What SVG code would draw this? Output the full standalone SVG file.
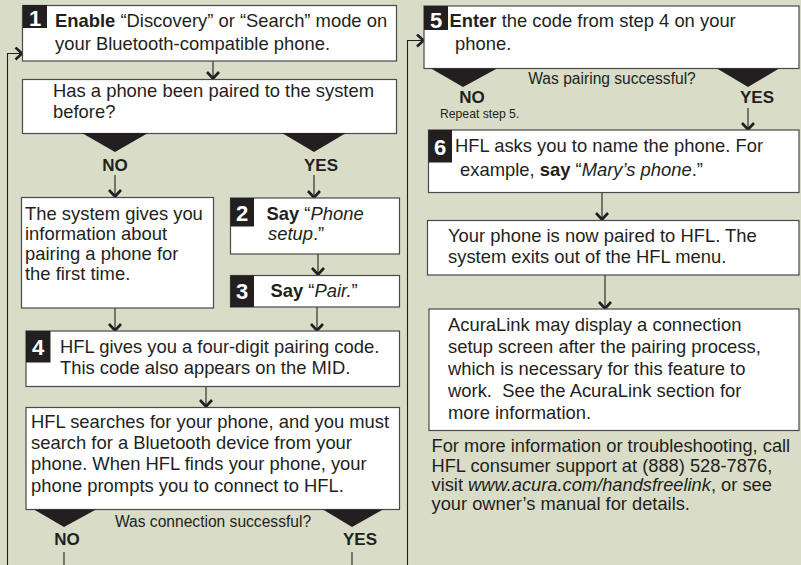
<svg xmlns="http://www.w3.org/2000/svg" width="801" height="565" viewBox="0 0 801 565">
<style>
.box{fill:#fff;stroke:#4a4a4a;stroke-width:1.2}
.badge{fill:#231f20}
.num{font-family:"Liberation Sans",Arial,sans-serif;font-weight:bold;font-size:22px;fill:#fff;text-anchor:middle}
.t{font-family:"Liberation Sans",Arial,sans-serif;font-size:18.4px;fill:#231f20}
.ft{font-family:"Liberation Sans",Arial,sans-serif;font-size:18.3px;fill:#231f20}
.sm{font-family:"Liberation Sans",Arial,sans-serif;font-size:15.6px;fill:#231f20}
.xs{font-family:"Liberation Sans",Arial,sans-serif;font-size:12.2px;fill:#231f20}
.yn{font-family:"Liberation Sans",Arial,sans-serif;font-size:17px;font-weight:bold;fill:#231f20;text-anchor:middle}
.tri{fill:#231f20}
.ln{fill:none;stroke:#231f20;stroke-width:1.1}
.b{font-weight:bold}
.i{font-style:italic}
</style>
<defs>
<marker id="arr" viewBox="0 0 12 14" refX="10" refY="7" markerWidth="12" markerHeight="14" markerUnits="userSpaceOnUse" orient="auto">
<path d="M3,1 L9.5,7 L3,13" fill="none" stroke="#231f20" stroke-width="2.6"/>
</marker>
</defs>
<rect width="801" height="565" fill="#d9dcc7"/>

<g id="connectors">
<path class="ln" d="M213,61 V79" marker-end="url(#arr)"/>
<path class="ln" d="M115,175 V197" marker-end="url(#arr)"/>
<path class="ln" d="M314,175 V198" marker-end="url(#arr)"/>
<path class="ln" d="M318,254 V275" marker-end="url(#arr)"/>
<path class="ln" d="M115,308 V331" marker-end="url(#arr)"/>
<path class="ln" d="M317,307 V331" marker-end="url(#arr)"/>
<path class="ln" d="M206,387 V407" marker-end="url(#arr)"/>
<path class="ln" d="M64,552 V565"/>
<path class="ln" d="M352,552 V565"/>
<path class="ln" d="M7.5,565 V53.5 H22.5" marker-end="url(#arr)"/>
<path class="ln" d="M407.5,565 V40.5 H424" marker-end="url(#arr)"/>
<path class="ln" d="M748,108 V130" marker-end="url(#arr)"/>
<path class="ln" d="M602,193 V220" marker-end="url(#arr)"/>
<path class="ln" d="M605,275 V309" marker-end="url(#arr)"/>
</g>

<g id="step1">
<rect class="box" x="22.5" y="5.5" width="374" height="55.5"/>
<rect class="badge" x="23" y="5" width="24" height="23"/>
<text class="num" x="35" y="26">1</text>
<text class="t" x="55" y="27"><tspan class="b">Enable</tspan> “Discovery” or “Search” mode on</text>
<text class="t" x="55" y="50">your Bluetooth-compatible phone.</text>
</g>

<g id="question1">
<rect class="box" x="22.5" y="79.5" width="374" height="54"/>
<text class="t" x="53" y="97">Has a phone been paired to the system</text>
<text class="t" x="53" y="118">before?</text>
<polygon class="tri" points="82,133 148,133 115,152"/>
<polygon class="tri" points="282,133 346,133 314,152"/>
<text class="yn" x="115" y="171">NO</text>
<text class="yn" x="321" y="171">YES</text>
</g>

<g id="firsttime">
<rect class="box" x="21.5" y="197.5" width="192" height="110.5"/>
<text class="t" x="25" y="220">The system gives you</text>
<text class="t" x="25" y="240">information about</text>
<text class="t" x="25" y="260">pairing a phone for</text>
<text class="t" x="25" y="280">the first time.</text>
</g>

<g id="step2">
<rect class="box" x="230.5" y="198" width="169" height="56"/>
<rect class="badge" x="230.5" y="198" width="23.5" height="28.5"/>
<text class="num" x="242" y="221">2</text>
<text class="t" x="266.5" y="220"><tspan class="b">Say</tspan> “<tspan class="i">Phone</tspan></text>
<text class="t" x="268" y="240"><tspan class="i">setup</tspan>.”</text>
</g>

<g id="step3">
<rect class="box" x="230.5" y="275.5" width="169" height="31.5"/>
<rect class="badge" x="230.5" y="275.5" width="23.5" height="31.5"/>
<text class="num" x="242" y="299">3</text>
<text class="t" x="270.5" y="297"><tspan class="b">Say</tspan> “<tspan class="i">Pair.</tspan>”</text>
</g>

<g id="step4">
<rect class="box" x="26" y="331" width="373.5" height="55.5"/>
<rect class="badge" x="26" y="331" width="24.5" height="31.5"/>
<text class="num" x="38" y="355">4</text>
<text class="t" x="60" y="353">HFL gives you a four-digit pairing code.</text>
<text class="t" x="60" y="374">This code also appears on the MID.</text>
</g>

<g id="search">
<rect class="box" x="26" y="407.5" width="373.5" height="102"/>
<text class="t" x="31" y="428">HFL searches for your phone, and you must</text>
<text class="t" x="31" y="449">search for a Bluetooth device from your</text>
<text class="t" x="31" y="470">phone. When HFL finds your phone, your</text>
<text class="t" x="31" y="492">phone prompts you to connect to HFL.</text>
<polygon class="tri" points="34,509.5 96,509.5 64,527"/>
<polygon class="tri" points="323,509.5 383,509.5 352,527"/>
<text class="sm" x="213" y="527" text-anchor="middle">Was connection successful?</text>
<text class="yn" x="67" y="545">NO</text>
<text class="yn" x="360" y="545">YES</text>
</g>

<g id="step5">
<rect class="box" x="424" y="6" width="375" height="62.5"/>
<rect class="badge" x="424" y="6" width="24" height="24"/>
<text class="num" x="436" y="28">5</text>
<text class="t" x="449.5" y="27"><tspan class="b">Enter</tspan> the code from step 4 on your</text>
<text class="t" x="455" y="50">phone.</text>
<polygon class="tri" points="431,68.5 497,68.5 463,87"/>
<polygon class="tri" points="717,68.5 779,68.5 748,87"/>
<text class="sm" x="612" y="84" text-anchor="middle">Was pairing successful?</text>
<text class="yn" x="472" y="103">NO</text>
<text class="xs" x="440" y="118">Repeat step 5.</text>
<text class="yn" x="757" y="103">YES</text>
</g>

<g id="step6">
<rect class="box" x="428.5" y="130" width="370.5" height="62.5"/>
<rect class="badge" x="428.5" y="130" width="23.5" height="32.5"/>
<text class="num" x="440" y="155">6</text>
<text class="t" x="455" y="152">HFL asks you to name the phone. For</text>
<text class="t" x="460" y="176">example, <tspan class="b">say</tspan> “<tspan class="i">Mary’s phone</tspan>.”</text>
</g>

<g id="paired">
<rect class="box" x="427.5" y="220.5" width="371.5" height="54.5"/>
<text class="t" x="448" y="241.5">Your phone is now paired to HFL. The</text>
<text class="t" x="448" y="263">system exits out of the HFL menu.</text>
</g>

<g id="acuralink">
<rect class="box" x="429" y="309" width="370" height="121.5"/>
<text class="t" x="448" y="331">AcuraLink may display a connection</text>
<text class="t" x="448" y="353">setup screen after the pairing process,</text>
<text class="t" x="448" y="375">which is necessary for this feature to</text>
<text class="t" x="448" y="397">work.&#160; See the AcuraLink section for</text>
<text class="t" x="448" y="418.5">more information.</text>
</g>

<g id="footer">
<text class="ft" x="431.5" y="452">For more information or troubleshooting, call</text>
<text class="ft" x="431.5" y="471.5">HFL consumer support at (888) 528-7876,</text>
<text class="ft" x="431.5" y="490.5">visit <tspan class="i">www.acura.com/handsfreelink</tspan>, or see</text>
<text class="ft" x="431.5" y="510">your owner’s manual for details.</text>
</g>
</svg>
